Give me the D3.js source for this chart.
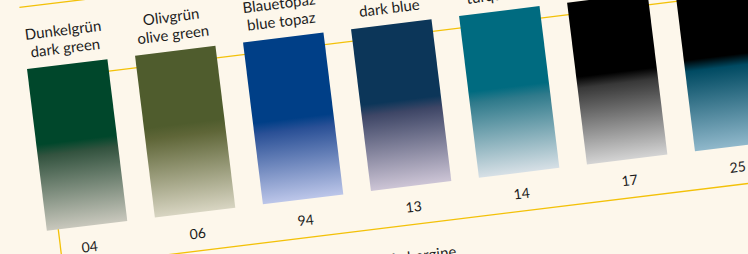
<!DOCTYPE html>
<html lang="de">
	<head>
		<meta charset="utf-8">
		<title>Farbkarte</title>
		<script src="https://d3js.org/d3.v7.min.js"></script>
		<style type="text/css">
			body {
				margin: 0;
				background-color: #fdf7eb;
			}
			svg {
				display: block;
				background-color: #fdf7eb;
			}
			.guide {
				fill: none;
				stroke: #f3c108;
				stroke-width: 1.3px;
			}
			text {
				font-family: Lato, "Noto Sans", sans-serif;
				fill: #1c1c1c;
			}
		</style>
	</head>
	<body>
		<script type="text/javascript">

			//Width and height
			var w = 748;
			var h = 254;

			//Swatch data, left to right
			var codes = ["04", "06", "94", "13", "14", "17", "25"];
			var namesDe = ["Dunkelgrün", "Olivgrün", "Blauetopaz", "", "", "", ""];
			var namesEn = ["dark green", "olive green", "blue topaz", "dark blue", "turquoise", "", ""];
			//top colour, colour where the fade starts, colour at the bottom
			var topColors = ["#00472b", "#4f5c2d", "#003f87", "#0c3659", "#006b80", "#000000", "#000000"];
			var midColors = ["#33533f", "#5f6638", "#2a5096", "#3e4666", "#2f7a8b", "#383838", "#004a62"];
			var endColors = ["#c9c8bd", "#d8d5c2", "#bcc6e9", "#cdc5d6", "#d7e0e6", "#d4d4d4", "#90b8cb"];
			//where the solid part ends (share of swatch height)
			var solidStops = [0.47, 0.45, 0.5, 0.47, 0.47, 0.46, 0.44];
			//second row label that peeks in at the bottom
			var lowerLabels = ["", "", "", "Aubergine", "", "", ""];

			var swatchH = 163;

			//Create SVG element
			var svg = d3.select("body")
						.append("svg")
						.attr("width", w)
						.attr("height", h);

			svg.append("rect")
				.attr("width", w)
				.attr("height", h)
				.attr("fill", "#fdf7eb");

			//the card is photographed slightly tilted
			var g = svg.append("g")
						.attr("transform", "translate(27,69) rotate(-7)");

			var x = d3.scaleBand()
						.domain(codes)
						.range([0, 734])
						.paddingInner(0.2555)
						.paddingOuter(0);

			var defs = svg.append("defs");

			codes.forEach(function(c, i) {
				var grad = defs.append("linearGradient")
								.attr("id", "grad" + i)
								.attr("x1", 0).attr("y1", 0)
								.attr("x2", 0).attr("y2", 1);
				var s = solidStops[i];
				grad.append("stop").attr("offset", 0).attr("stop-color", topColors[i]);
				grad.append("stop").attr("offset", s).attr("stop-color", topColors[i]);
				grad.append("stop").attr("offset", s + 0.07).attr("stop-color", midColors[i]);
				grad.append("stop").attr("offset", 1).attr("stop-color", endColors[i]);
			});

			//Guide lines behind the swatches
			g.append("line")
				.attr("class", "guide")
				.attr("x1", 0).attr("y1", -62)
				.attr("x2", 900).attr("y2", -62);

			g.append("line")
				.attr("class", "guide")
				.attr("x1", 40).attr("y1", 12)
				.attr("x2", 900).attr("y2", 12);

			g.append("line")
				.attr("class", "guide")
				.attr("x1", 11.5).attr("y1", 100)
				.attr("x2", 11.5).attr("y2", 201.5);

			g.append("line")
				.attr("class", "guide")
				.attr("x1", 11.5).attr("y1", 201.5)
				.attr("x2", 900).attr("y2", 201.5);

			//Swatches
			g.selectAll("rect.swatch")
				.data(codes)
				.enter()
				.append("rect")
				.attr("class", "swatch")
				.attr("x", function(d) { return x(d); })
				.attr("y", 0)
				.attr("width", x.bandwidth())
				.attr("height", swatchH)
				.attr("fill", function(d, i) { return "url(#grad" + i + ")"; });

			//Names above
			g.selectAll("text.de")
				.data(codes)
				.enter()
				.append("text")
				.attr("class", "de")
				.attr("x", function(d) { return x(d) + x.bandwidth() / 2; })
				.attr("y", -29)
				.attr("text-anchor", "middle")
				.style("font-size", "15px")
				.text(function(d, i) { return namesDe[i]; });

			g.selectAll("text.en")
				.data(codes)
				.enter()
				.append("text")
				.attr("class", "en")
				.attr("x", function(d) { return x(d) + x.bandwidth() / 2; })
				.attr("y", -11)
				.attr("text-anchor", "middle")
				.style("font-size", "15px")
				.text(function(d, i) { return namesEn[i]; });

			//Codes below
			g.selectAll("text.code")
				.data(codes)
				.enter()
				.append("text")
				.attr("class", "code")
				.attr("x", function(d) { return x(d) + x.bandwidth() / 2; })
				.attr("y", 189)
				.attr("text-anchor", "middle")
				.style("font-size", "14px")
				.text(function(d) { return d; });

			g.selectAll("text.lower")
				.data(codes)
				.enter()
				.append("text")
				.attr("class", "lower")
				.attr("x", function(d) { return x(d) + x.bandwidth() / 2 + 3; })
				.attr("y", 238.5)
				.attr("text-anchor", "middle")
				.style("font-size", "15px")
				.text(function(d, i) { return lowerLabels[i]; });

		</script>
	</body>
</html>
